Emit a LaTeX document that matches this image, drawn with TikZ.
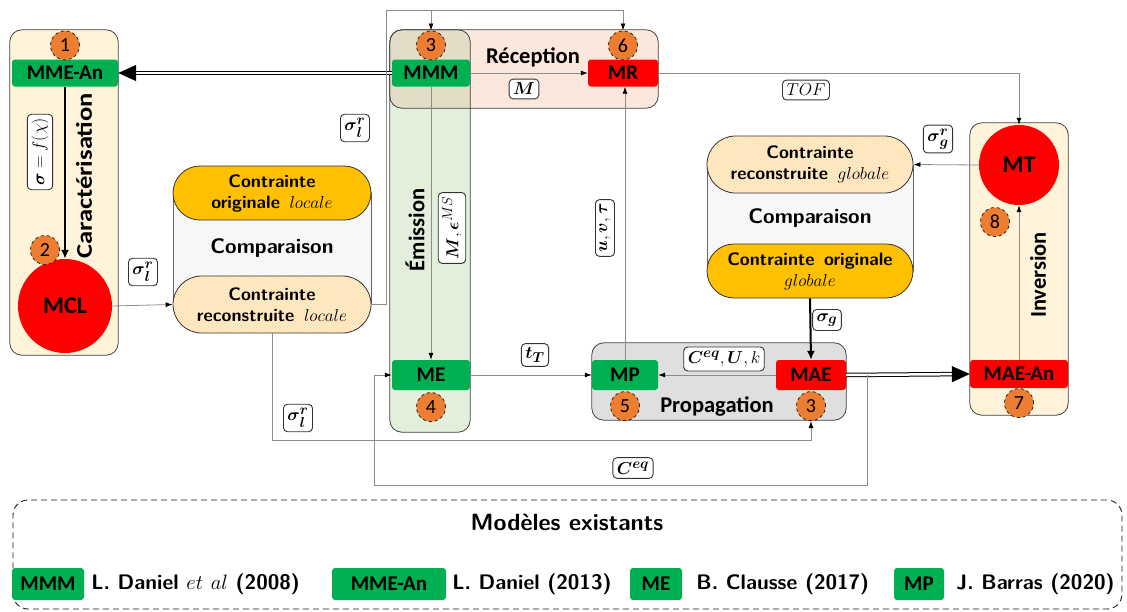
\documentclass[tikz,border=0pt]{standalone}
\usepackage{fontspec}
\usepackage{xcolor}
\usepackage{graphicx}
\usepackage{amsmath}
\usepackage{amssymb}
\usepackage{tikz}
\usetikzlibrary{positioning, arrows.meta, shapes.misc, patterns}

\newfontfamily\carlito{Carlito}
\newcommand{\taille}[2]{\fontsize{#1}{#2}\selectfont}

\definecolor{vertmod}{HTML}{00B050}
\definecolor{rougemod}{HTML}{FF0000}
\definecolor{orangenum}{HTML}{ED7D31}
\definecolor{beige}{HTML}{FFF3DA}
\definecolor{vertclair}{HTML}{E3EFDA}
\definecolor{peche}{HTML}{FBE7DC}
\definecolor{kaki}{HTML}{E2DDC6}
\definecolor{grisprop}{HTML}{DFDFDF}
\definecolor{orangecap}{HTML}{FFC000}
\definecolor{jaunehach}{HTML}{FFF2CC}
\definecolor{grisfond}{HTML}{F7F7F7}

\tikzset{
  panneau/.style={rounded corners=12pt, inner sep=0pt},
  bord/.style={draw=black!75, line width=0.8pt, rounded corners=12pt},
  modele/.style={rectangle, rounded corners=3pt, fill=vertmod, inner sep=0pt, minimum height=27pt, font=\carlito\bfseries\taille{21}{21}},
  modrouge/.style={modele, fill=rougemod},
  etape/.style={circle, draw=black!85, dashed, line width=0.8pt, fill=orangenum, minimum size=29pt, inner sep=0pt, font=\carlito\taille{20}{20}},
  cercle/.style={circle, fill=rougemod, inner sep=0pt, font=\carlito\bfseries\taille{24}{24}},
  etiq/.style={draw=black!80, rounded corners=4pt, fill=white, line width=0.9pt, inner sep=4pt, font=\taille{19}{19}},
  titre/.style={font=\carlito\bfseries\taille{22.5}{22.5}},
  capsule/.style={rounded rectangle, draw=black!80, line width=0.8pt, inner sep=0pt, align=center, font=\sffamily\bfseries\taille{18}{21}},
  hachure/.style={capsule, preaction={fill=jaunehach}, pattern=north east lines, pattern color=orange!35},
  milieu/.style={rectangle, draw=black!60, fill=grisfond, font=\sffamily\bfseries\taille{21}{21}},
  legtexte/.style={font=\sffamily\bfseries\taille{21}{21}, inner sep=0pt},
  fleche/.style={draw=black!45, line width=0.8pt, -{Latex[length=7pt, width=5pt, color=black]}},
  grosse/.style={draw=black, line width=2pt, -{Latex[length=9pt, width=8pt]}},
  doublef/.style={draw=black, double=white, double distance=2.5pt, line width=1pt, -{Triangle[length=18pt, width=16pt]}},
}

\begin{document}
\begin{tikzpicture}[x=1pt, y=-1pt]
    \useasboundingbox (0,0) rectangle (1127,611);

    % Pannelli
    \node[panneau, fill=beige, minimum width=108pt, minimum height=325pt] (caract) at (64,192.5) {};
    \node[panneau, fill=peche, minimum width=268pt, minimum height=78pt] (reception) at (524,69) {};
    \node[panneau, fill=vertclair, minimum width=80pt, minimum height=402pt] (emission) at (430,231) {};
    \begin{scope}
        \clip[rounded corners=12pt] (reception.south west) rectangle (reception.north east);
        \fill[kaki, rounded corners=12pt] (emission.south west) rectangle (emission.north east);
    \end{scope}
    \node[panneau, fill=grisprop, minimum width=254pt, minimum height=77pt] (propagation) at (719,381.5) {};
    \node[panneau, fill=beige, minimum width=98pt, minimum height=292pt] (inversion) at (1019,269) {};
    \draw[bord] (caract.south west) rectangle (caract.north east);
    \draw[bord] (reception.south west) rectangle (reception.north east);
    \draw[bord] (emission.south west) rectangle (emission.north east);
    \draw[bord] (propagation.south west) rectangle (propagation.north east);
    \draw[bord] (inversion.south west) rectangle (inversion.north east);

    % Titoli
    \node[titre, rotate=90] (tcaract) at (84,176) {\scalebox{1.18}[1]{Caractérisation}};
    \node[titre] (treception) at (533,57) {Réception};
    \node[titre, rotate=90] (temission) at (415,230) {Émission};
    \node[titre] (tpropagation) at (717,406) {Propagation};
    \node[titre, rotate=90] (tinversion) at (1038,275) {Inversion};

    % Modelli
    \node[modele, minimum width=106pt] (mmean) at (65,73) {MME-An};
    \node[cercle, minimum size=94pt] (mcl) at (65,306) {MCL};
    \node[modele, minimum width=78pt] (mmm) at (431,73) {MMM};
    \node[modrouge, minimum width=70pt] (mr) at (623,73) {MR};
    \node[modele, minimum width=78pt, minimum height=30pt] (me) at (431,375) {ME};
    \node[modele, minimum width=66pt, minimum height=30pt] (mp) at (625,375) {MP};
    \node[modrouge, minimum width=70pt, minimum height=30pt] (mae) at (811,375) {MAE};
    \node[modrouge, minimum width=98pt, minimum height=28pt] (maean) at (1019,374) {MAE-An};
    \node[cercle, minimum size=80pt] (mt) at (1019,165) {MT};

    % Numeri delle tappe
    \node[etape, above=-1pt of mmean] (n1) {1};
    \node[etape] (n2) at (45,250) {2};
    \node[etape, above=-1pt of mmm] (n3a) {3};
    \node[etape, above=-1pt of mr] (n6) {6};
    \node[etape, below=2pt of me] (n4) {4};
    \node[etape, below=1pt of mp] (n5) {5};
    \node[etape, below=1pt of mae] (n3b) {3};
    \node[etape, below=0pt of maean] (n7) {7};
    \node[etape] (n8) at (995,222) {8};

    % Confronti
    \node[milieu, minimum width=198pt, minimum height=111pt] (complocal) at (272,248) {Comparaison};
    \node[capsule, fill=orangecap, minimum width=198pt, minimum height=54pt] (origlocal) at (272,193) {Contrainte\\originale \,$locale$};
    \node[hachure, minimum width=198pt, minimum height=57pt] (reconlocal) at (272,304.5) {Contrainte\\reconstruite \,$locale$};
    \node[milieu, minimum width=206pt, minimum height=106pt] (compglobal) at (810,218) {Comparaison};
    \node[hachure, minimum width=206pt, minimum height=57pt] (reconglobal) at (810,164.5) {Contrainte\\reconstruite \,$globale$};
    \node[capsule, fill=orangecap, minimum width=206pt, minimum height=54pt] (origglobal) at (810,271) {Contrainte \,originale\\$globale$};

    % Etichette
    \node[etiq, rotate=90] (esigma) at (40,152) {$\boldsymbol{\sigma} = f(\chi)$};
    \node[etiq] (esl1) at (143,272) {$\boldsymbol{\sigma}_{\boldsymbol{l}}^{\boldsymbol{r}}$};
    \node[etiq] (esl2) at (355,128) {$\boldsymbol{\sigma}_{\boldsymbol{l}}^{\boldsymbol{r}}$};
    \node[etiq] (esl3) at (298,418) {$\boldsymbol{\sigma}_{\boldsymbol{l}}^{\boldsymbol{r}}$};
    \node[etiq] (em) at (524,89) {$\boldsymbol{M}$};
    \node[etiq, rotate=90] (emeps) at (452,228) {$\boldsymbol{M},\boldsymbol{\epsilon}^{MS}$};
    \node[etiq, rotate=90] (euvt) at (605,228) {$\boldsymbol{u},\boldsymbol{v},\boldsymbol{\tau}$};
    \node[etiq] (ett) at (535,355) {$\boldsymbol{t_T}$};
    \node[etiq] (ecuk) at (724,359) {$\boldsymbol{C^{eq}},\boldsymbol{U},k$};
    \node[etiq] (eceq) at (633,468) {$\boldsymbol{C^{eq}}$};
    \node[etiq] (etof) at (806,90) {$TOF$};
    \node[etiq] (esg) at (827,320) {$\boldsymbol{\sigma_g}$};
    \node[etiq] (esgr) at (938,139) {$\boldsymbol{\sigma}_{\boldsymbol{g}}^{\boldsymbol{r}}$};

    % Coordinate dei percorsi
    \coordinate (haut) at (386,10);
    \coordinate (bas) at (271,440);
    \coordinate (ceqdep) at (867,375);
    \coordinate (ceqbas) at (374,485);

    % Frecce
    \draw[doublef] (mmm.west) -- (mmean.east);
    \draw[grosse] (mmean.south) -- (mcl.north);
    \draw[fleche] (mcl.east) -- (reconlocal.west);
    \draw[fleche] (reconlocal.east) -| (haut) -| (n3a.north);
    \draw[fleche] (n3a.north |- haut) -| (n6.north);
    \draw[fleche] (reconlocal.south) -- (reconlocal.south |- bas) -| (n3b.south);
    \draw[fleche] (mmm.east) -- (mr.west);
    \draw[fleche] (mmm.south) -- (me.north);
    \draw[fleche] (me.east) -- (mp.west);
    \draw[fleche] (mae.west) -- (mp.east);
    \draw[fleche] (mp.north) -- (mp.north |- mr.south);
    \draw[grosse] (origglobal.south) -- (mae.north);
    \draw[doublef] (mae.east) -- (maean.west);
    \draw[fleche] (ceqdep) |- (ceqbas) |- (me.west);
    \draw[fleche] (mr.east) -| (mt.north);
    \draw[fleche] (mt.west) -- (reconglobal.east);
    \draw[fleche] (maean.north) -- (mt.south);

    % Legenda
    \node[draw=black!90, dash pattern=on 6pt off 4pt, rounded corners=15pt, line width=0.9pt, minimum width=1109pt, minimum height=109pt] (legende) at (567.5,554.5) {};
    \node[font=\sffamily\bfseries\taille{23.5}{23.5}] (titreleg) at (567,522) {Modèles existants};
    \node[modele, minimum width=72pt, minimum height=32pt] (lmmm) at (48,584) {MMM};
    \node[legtexte, right=7pt of lmmm] (ldaniel1) {L. Daniel $et\ al$ (2008)};
    \node[modele, minimum width=114pt, minimum height=32pt] (lmmean) at (389,584) {MME-An};
    \node[legtexte, right=6pt of lmmean] (ldaniel2) {L. Daniel (2013)};
    \node[modele, minimum width=52pt, minimum height=32pt] (lme) at (656,584) {ME};
    \node[legtexte, right=14pt of lme] (lclausse) {B. Clausse (2017)};
    \node[modele, minimum width=50pt, minimum height=32pt] (lmp) at (919,584) {MP};
    \node[legtexte, right=12pt of lmp] (lbarras) {J. Barras (2020)};
\end{tikzpicture}
\end{document}
